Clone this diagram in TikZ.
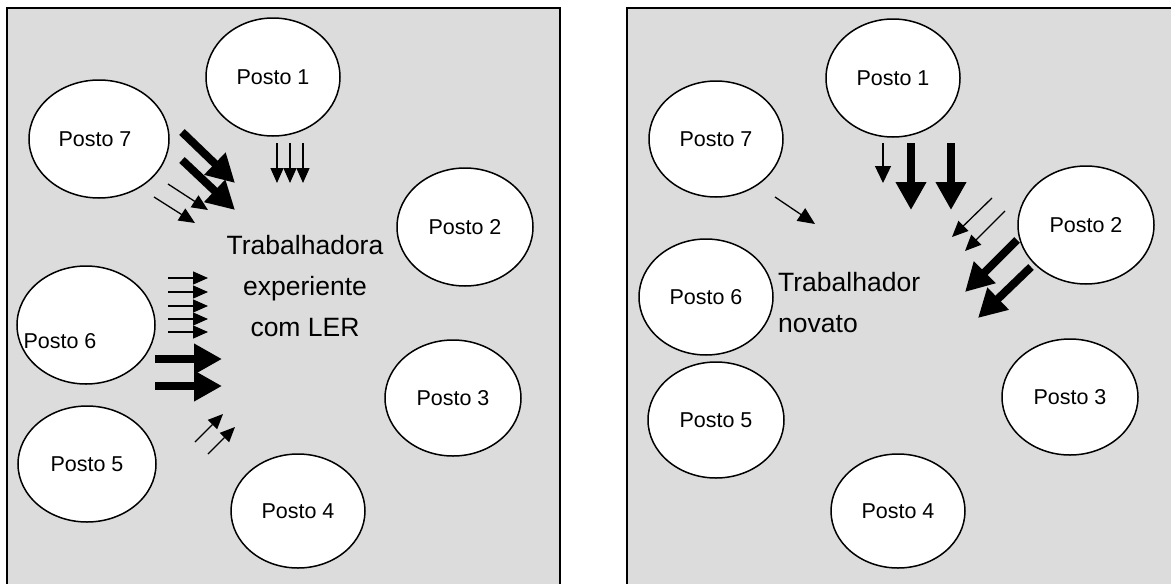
\documentclass[tikz,border=0pt]{standalone}
\usepackage{fontspec}
\setmainfont{Liberation Sans}
\usetikzlibrary{arrows.meta,shapes.geometric}
\definecolor{panelgray}{RGB}{220,220,220}
\tikzset{
  panel/.style={draw=black,line width=2.5pt,fill=panelgray},
  posto/.style={ellipse,draw=black,line width=1.5pt,fill=white,inner sep=0pt,font=\fontsize{21.5}{26}\selectfont},
  lbl/.style={font=\fontsize{21.5}{26}\selectfont,inner sep=0pt},
  worker/.style={font=\fontsize{26.5}{41}\selectfont,inner sep=0pt},
  thinarr/.style={line width=1.3pt,-{Triangle[length=16pt,width=14pt]}},
  smallarr/.style={line width=1.3pt,-{Triangle[length=15pt,width=13pt]}},
  thickarr/.style={line width=8pt,-{Triangle[length=28pt,width=29pt]}}
}
\begin{document}
\begin{tikzpicture}[x=1pt,y=-1pt]
\useasboundingbox (0,0) rectangle (1171,584);
\clip (0,0) rectangle (1171,584);
% panels
\draw[panel] (7,8) rectangle (560,600);
\draw[panel] (627,8) rectangle (1190,600);

% left panel
\node[posto,minimum width=134pt,minimum height=118pt] (L1) at (273,77) {Posto 1};
\node[posto,minimum width=140pt,minimum height=118pt] (L7) at (99,139) {};
\node[lbl] (L7t) at (95,139) {Posto 7};
\node[posto,minimum width=136pt,minimum height=118pt] (L2) at (465,227) {Posto 2};
\node[posto,minimum width=138pt,minimum height=118pt] (L6) at (86,325) {};
\node[lbl] (L6t) at (60,341) {Posto 6};
\node[posto,minimum width=138pt,minimum height=116pt] (L5) at (87,464) {Posto 5};
\node[posto,minimum width=134pt,minimum height=114pt] (L4) at (298,511) {Posto 4};
\node[posto,minimum width=136pt,minimum height=116pt] (L3) at (453,398) {Posto 3};
\node[worker,align=center] (LW) at (305,286) {Trabalhadora\\experiente\\com LER};

% left arrows from Posto 7
\draw[thickarr] (182,132) -- (235,183);
\draw[thickarr] (182,160) -- (235,210);
\draw[thinarr] (168,184) -- (208,210);
\draw[thinarr] (154,197) -- (195,223);
% from Posto 1
\draw[smallarr] (277,143) -- (277,183);
\draw[smallarr] (290,143) -- (290,183);
\draw[smallarr] (303,143) -- (303,183);
% from Posto 6
\foreach \yy in {278,292,306,319,332}
  \draw[smallarr] (168,\yy) -- (208,\yy);
\draw[thickarr] (155,359) -- (222,359);
\draw[thickarr] (155,386) -- (222,386);
% from Posto 5
\draw[smallarr] (195,442) -- (223,414);
\draw[smallarr] (208,454) -- (235,427);

% right panel
\node[posto,minimum width=134pt,minimum height=118pt] (R1) at (893,78) {Posto 1};
\node[posto,minimum width=134pt,minimum height=116pt] (R7) at (716,139) {Posto 7};
\node[posto,minimum width=136pt,minimum height=118pt] (R2) at (1086,225) {Posto 2};
\node[posto,minimum width=134pt,minimum height=116pt] (R6) at (706,297) {Posto 6};
\node[posto,minimum width=136pt,minimum height=116pt] (R5) at (716,420) {Posto 5};
\node[posto,minimum width=134pt,minimum height=114pt] (R4) at (898,511) {Posto 4};
\node[posto,minimum width=136pt,minimum height=116pt] (R3) at (1070,397) {Posto 3};
\node[worker,align=left,anchor=west] (RW) at (778,303) {Trabalhador\\novato};

% right arrows
\draw[thinarr,-{Triangle[length=17pt,width=16pt]}] (883,143) -- (883,183);
\draw[thickarr] (911,143) -- (911,210);
\draw[thickarr] (951,143) -- (951,210);
\draw[thinarr] (992,198) -- (952,237);
\draw[thinarr] (1005,211) -- (965,251);
\draw[thickarr] (1017,240) -- (965,292);
\draw[thickarr] (1031,267) -- (978,318);
\draw[thinarr,-{Triangle[length=17pt,width=15pt]}] (775,197) -- (815,224);
\end{tikzpicture}
\end{document}
